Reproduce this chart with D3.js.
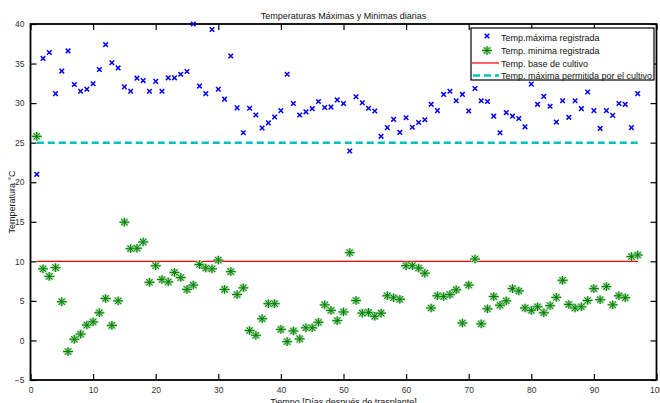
<!DOCTYPE html>
<html>
<head>
<meta charset="utf-8">
<script src="https://cdn.jsdelivr.net/npm/d3@7"></script>
<style>
  body { margin: 0; background: #fff; }
  text { font-family: "Liberation Sans", Arial, sans-serif; }
</style>
</head>
<body>
<div id="chart-area"></div>
<script>
// daily max / min temperatures, day 1..97
var tMax = [21.0, 35.65, 36.4, 31.2, 34.05, 36.6, 32.35, 31.5, 31.75, 32.45,
  34.25, 37.4, 35.1, 34.45, 32.05, 31.5, 33.15, 32.85, 31.5, 32.75,
  31.5, 33.2, 33.2, 33.65, 34.0, 40.0, 32.15, 31.2, 39.3, 31.75,
  30.5, 35.95, 29.4, 26.25, 29.35, 28.5, 26.85, 27.5, 28.25, 29.05,
  33.65, 29.95, 28.5, 28.9, 29.3, 30.2, 29.45, 29.5, 30.4, 29.95,
  23.95, 30.8, 30.05, 29.35, 29.0, 25.8, 26.9, 27.95, 26.3, 28.15,
  26.95, 27.55, 27.9, 29.85, 29.05, 31.1, 31.5, 30.3, 31.1, 29.0,
  31.85, 30.3, 30.2, 28.35, 26.25, 28.8, 28.35, 28.05, 27.0, 32.4,
  29.85, 30.85, 29.6, 27.6, 30.3, 28.2, 30.3, 29.3, 31.4, 29.05,
  26.8, 29.05, 28.45, 29.95, 29.85, 26.9, 31.2];

var tMin = [25.8, 9.05, 8.1, 9.2, 4.9, -1.4, 0.15, 0.8, 1.95, 2.35,
  3.5, 5.3, 1.9, 5.0, 14.95, 11.6, 11.65, 12.45, 7.35, 9.45,
  7.7, 7.4, 8.6, 7.95, 6.45, 7.0, 9.6, 9.15, 9.05, 10.15,
  6.45, 8.7, 5.8, 6.65, 1.25, 0.65, 2.75, 4.65, 4.65, 1.4,
  -0.15, 1.2, 0.2, 1.6, 1.6, 2.3, 4.5, 3.8, 2.5, 3.6,
  11.1, 5.05, 3.45, 3.55, 3.05, 3.45, 5.65, 5.4, 5.2, 9.45,
  9.45, 9.15, 8.5, 4.1, 5.65, 5.55, 5.8, 6.4, 2.2, 7.0,
  10.3, 2.1, 4.0, 5.55, 4.45, 5.0, 6.55, 6.25, 4.1, 3.8,
  4.25, 3.5, 4.4, 5.45, 7.6, 4.55, 4.1, 4.25, 5.05, 6.55,
  5.15, 6.8, 4.5, 5.65, 5.4, 10.6, 10.8];

var days = d3.range(1, tMax.length + 1);
var tBase = 10;      // temp. base de cultivo
var tLimit = 25;     // temp. maxima permitida
var xTicks = [0, 10, 20, 30, 40, 50, 60, 70, 80, 90, 100];
var yTicks = [-5, 0, 5, 10, 15, 20, 25, 30, 35, 40];
var legendLabels = ["Temp.máxima registrada", "Temp. minima registrada",
  "Temp. base de cultivo", "Temp. máxima permitida por el cultivo"];

var W = 660, H = 403;
var margin = {left: 30.5, right: 656.5, top: 24, bottom: 380};

var svg = d3.select("#chart-area").append("svg")
  .attr("width", W).attr("height", H);

var x = d3.scaleLinear().domain([0, 100]).range([margin.left, margin.right]);
var y = d3.scaleLinear().domain([-5, 40]).range([margin.bottom, margin.top]);

function styleAxis(g) {
  g.select(".domain").remove();
  g.selectAll(".tick line").attr("stroke", "#000").attr("stroke-width", 1.2);
  g.selectAll(".tick text").attr("fill", "#333").attr("font-size", "8.5px")
    .attr("font-family", "Liberation Sans, Arial, sans-serif");
}

svg.append("g")
  .attr("transform", "translate(0," + margin.bottom + ")")
  .call(d3.axisBottom(x).tickValues(xTicks).tickSize(-6).tickPadding(7))
  .call(styleAxis);

svg.append("g")
  .attr("transform", "translate(" + margin.left + ",0)")
  .call(d3.axisLeft(y).tickValues(yTicks).tickSize(-6).tickPadding(6))
  .call(styleAxis);

svg.append("g")
  .attr("transform", "translate(0," + margin.top + ")")
  .call(d3.axisTop(x).tickValues(xTicks).tickSize(-6).tickFormat(""))
  .call(styleAxis);

svg.append("g")
  .attr("transform", "translate(" + margin.right + ",0)")
  .call(d3.axisRight(y).tickValues(yTicks).tickSize(-6).tickFormat(""))
  .call(styleAxis);

// frame
svg.append("rect")
  .attr("x", margin.left).attr("y", margin.top)
  .attr("width", margin.right - margin.left).attr("height", margin.bottom - margin.top)
  .attr("fill", "none").attr("stroke", "#000").attr("stroke-width", 1.8);

// reference lines
svg.append("line")
  .attr("x1", x(days[0])).attr("x2", x(days[days.length - 1]))
  .attr("y1", y(tBase)).attr("y2", y(tBase))
  .attr("stroke", "#ff0000").attr("stroke-width", 1.2);

svg.append("line")
  .attr("x1", x(days[0])).attr("x2", x(days[days.length - 1]))
  .attr("y1", y(tLimit)).attr("y2", y(tLimit))
  .attr("stroke", "#00bfbf").attr("stroke-width", 2.5)
  .attr("stroke-dasharray", "7,4");

function drawCross(g, s) {
  g.append("path")
    .attr("d", "M" + (-s) + "," + (-s) + "L" + s + "," + s + "M" + (-s) + "," + s + "L" + s + "," + (-s))
    .attr("stroke", "#0000ff").attr("stroke-width", 1.5).attr("fill", "none");
}

function drawStar(g) {
  var d = 3.2;
  var p = "M-5,0L5,0M0,-4.3L0,4.3M" + (-d) + "," + (-d) + "L" + d + "," + d + "M" + (-d) + "," + d + "L" + d + "," + (-d);
  g.append("path").attr("d", p)
    .attr("stroke", "#9ed29e").attr("stroke-width", 2.4).attr("fill", "none");
  g.append("path").attr("d", p)
    .attr("stroke", "#008000").attr("stroke-width", 1).attr("fill", "none");
}

svg.append("g").selectAll("g")
  .data(tMax)
  .enter().append("g")
  .attr("transform", function(d, i) { return "translate(" + x(days[i]) + "," + y(d) + ")"; })
  .each(function() { drawCross(d3.select(this), 2.3); });

svg.append("g").selectAll("g")
  .data(tMin)
  .enter().append("g")
  .attr("transform", function(d, i) { return "translate(" + x(days[i]) + "," + y(d) + ")"; })
  .each(function() { drawStar(d3.select(this)); });

// title and axis labels
var midX = (margin.left + margin.right) / 2;
svg.append("text")
  .attr("x", midX).attr("y", 19)
  .attr("text-anchor", "middle").attr("font-size", "9px").attr("fill", "#111")
  .text("Temperaturas Máximas y Minimas diarias");

svg.append("text")
  .attr("x", midX).attr("y", 405)
  .attr("text-anchor", "middle").attr("font-size", "9px").attr("fill", "#111")
  .text("Tiempo [Días después de trasplante]");

svg.append("text")
  .attr("transform", "translate(15," + ((margin.top + margin.bottom) / 2) + ") rotate(-90)")
  .attr("text-anchor", "middle").attr("font-size", "9px").attr("fill", "#111")
  .text("Temperatura °C");

// legend
var legend = svg.append("g");
legend.append("rect")
  .attr("x", 471).attr("y", 28).attr("width", 183).attr("height", 52)
  .attr("fill", "#fff").attr("stroke", "#000").attr("stroke-width", 1.2);

var rowY = [37.5, 50.5, 63, 75.5];
legendLabels.forEach(function(lbl, i) {
  var row = legend.append("g").attr("transform", "translate(0," + rowY[i] + ")");
  if (i == 0) drawCross(row.append("g").attr("transform", "translate(487,-1.5)"), 2.3);
  if (i == 1) drawStar(row.append("g").attr("transform", "translate(487,0)"));
  if (i == 2) row.append("line").attr("x1", 472).attr("x2", 499).attr("y1", 0).attr("y2", 0)
    .attr("stroke", "#ff0000").attr("stroke-width", 1.2);
  if (i == 3) row.append("line").attr("x1", 473).attr("x2", 499).attr("y1", 0).attr("y2", 0)
    .attr("stroke", "#00bfbf").attr("stroke-width", 2.5).attr("stroke-dasharray", "7,4");
  row.append("text")
    .attr("x", 501).attr("y", 3.5)
    .attr("font-size", "9px").attr("fill", "#111")
    .text(lbl);
});
</script>
</body>
</html>
